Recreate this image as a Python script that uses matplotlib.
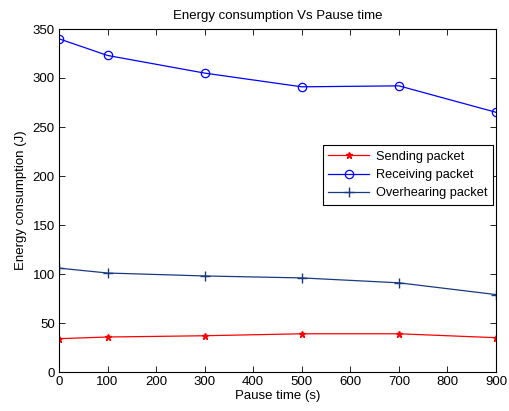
import matplotlib
matplotlib.use("Agg")
import matplotlib.pyplot as plt

plt.rcParams['font.family'] = ['Liberation Sans', 'DejaVu Sans']

# pause times and energy values (J)
pause_time = [0, 100, 300, 500, 700, 900]
sending = [34, 35.7, 37, 39, 39, 35]
receiving = [340, 323, 305, 291, 292, 265]
overhearing = [106, 101, 98, 96, 91, 79]

fig = plt.figure(figsize=(5.1, 4.11), dpi=100)
ax = fig.add_axes([59 / 510, 1 - 372 / 411, (496 - 59) / 510, (372 - 29) / 411])

ax.plot(pause_time, sending, color='red', marker='*', markersize=5,
        linewidth=0.9, label='Sending packet')
ax.plot(pause_time, receiving, color='blue', marker='o', markersize=6,
        markerfacecolor='none', markeredgewidth=0.9, linewidth=0.9,
        label='Receiving packet')
ax.plot(pause_time, overhearing, color='#1a3a80', marker='+', markersize=7,
        linewidth=0.9, label='Overhearing packet')

ax.set_xlim(0, 900)
ax.set_ylim(0, 350)
ax.set_xticks(range(0, 901, 100))
ax.set_yticks(range(0, 351, 50))
ax.tick_params(direction='in', top=True, right=True, labelsize=9.5,
               length=4, width=0.6, pad=3)
for s in ax.spines.values():
    s.set_linewidth(0.8)

ax.set_title('Energy consumption Vs Pause time', fontsize=9.5, pad=7)
ax.set_xlabel('Pause time (s)', fontsize=9.5, labelpad=1)
ax.set_ylabel('Energy consumption (J)', fontsize=9.5, labelpad=4)

leg = ax.legend(loc='upper right', bbox_to_anchor=(0.993, 0.662), fontsize=9.2,
                fancybox=False, edgecolor='black', framealpha=1,
                handlelength=3.2, borderpad=0.45, labelspacing=0.5,
                handletextpad=0.5, borderaxespad=0)
leg.get_frame().set_linewidth(0.8)

fig.savefig('out.png', dpi=100)
